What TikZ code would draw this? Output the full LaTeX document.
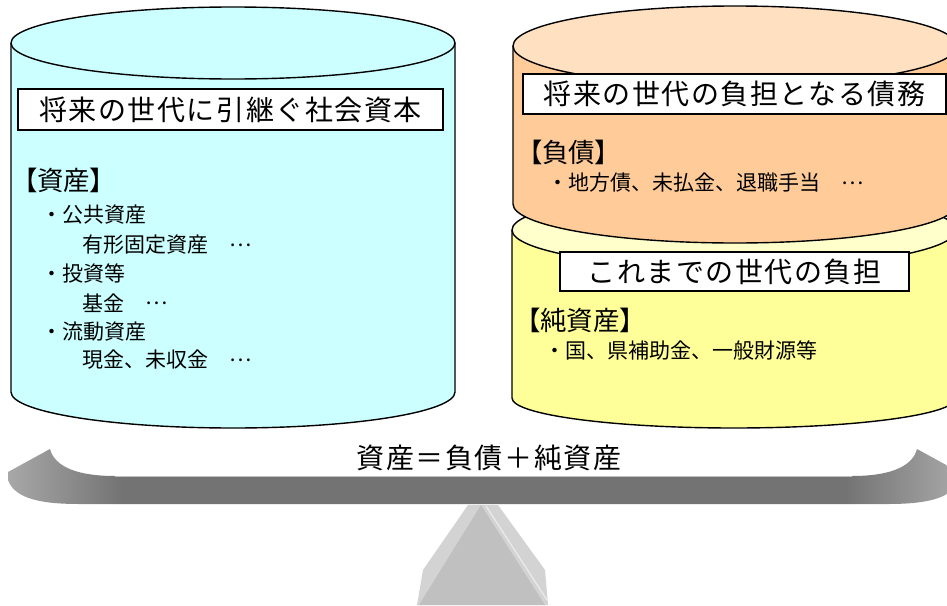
\documentclass[tikz,border=0pt]{standalone}
\usepackage{fontspec}
\newfontfamily\jp{Noto Sans CJK JP}
\newfontfamily\jpls[LetterSpace=5.5]{Noto Sans CJK JP}
\newfontfamily\jpp[RawFeature=+palt]{Noto Sans CJK JP}
\newcommand{\midell}{\raisebox{0.32em}{…}}
\definecolor{cyanfill}{HTML}{CCFFFF}
\definecolor{orangetop}{HTML}{FFE0C0}
\definecolor{orangebody}{HTML}{FFCC99}
\definecolor{yellowtop}{HTML}{FFFFCC}
\definecolor{yellowbody}{HTML}{FFFF99}
\definecolor{beamend}{HTML}{A8A8A8}
\definecolor{beammid}{HTML}{737373}
\definecolor{fulcrumlight}{HTML}{D3D3D3}
\definecolor{fulcrumdark}{HTML}{C0C0C0}
\pgfdeclarehorizontalshading{beamshade}{100bp}{color(0bp)=(beamend); color(25bp)=(beamend); color(31bp)=(beammid); color(69bp)=(beammid); color(75bp)=(beamend); color(100bp)=(beamend)}
\tikzset{
  cylline/.style={draw=black, line width=1.4pt},
  titlebox/.style={draw=black, line width=1.3pt, fill=white, inner sep=0pt,
    font={\jpls\fontsize{28pt}{28pt}\selectfont}},
  headtext/.style={anchor=west, inner sep=0pt, font={\jpp\fontsize{26.5pt}{27pt}\selectfont}},
  itemtext/.style={anchor=west, inner sep=0pt, font={\jp\fontsize{21pt}{21pt}\selectfont}},
  eqtext/.style={inner sep=0pt, font={\jpls\fontsize{28pt}{28pt}\selectfont}}
}
\newcommand{\drawcyl}[8]{%
  \pgfmathsetmacro\cylrx{(#2-#1)/2}
  \fill[#8] (#1,#3) -- (#1,#4) arc[start angle=180,end angle=0,x radius=\cylrx,y radius=#6] -- (#2,#3) -- cycle;
  \draw[cylline] (#1,#3) -- (#1,#4) arc[start angle=180,end angle=0,x radius=\cylrx,y radius=#6] -- (#2,#3);
  \filldraw[cylline, fill=#7] ({(#1+#2)/2},#3) ellipse[x radius=\cylrx, y radius=#5];
}
\begin{document}
\begin{tikzpicture}[x=1pt,y=-1pt]
\useasboundingbox (0,0) rectangle (947,605);
\clip (0,0) rectangle (947,605);
\fill[white] (0,0) rectangle (947,605);

% cylinders
\drawcyl{11}{455}{43}{392}{36}{36}{cyanfill}{cyanfill}
\drawcyl{512}{956}{230}{398}{38}{30}{yellowtop}{yellowbody}
\drawcyl{513}{957}{46}{204}{40}{39}{orangetop}{orangebody}

% title boxes
\node[titlebox, minimum width=425pt, minimum height=41pt] (ltitle) at (230.5,109.5) {将来の世代に引継ぐ社会資本};
\node[titlebox, minimum width=423pt, minimum height=40pt] (rtitle) at (734.5,94) {将来の世代の負担となる債務};
\node[titlebox, minimum width=349pt, minimum height=39pt] (ntitle) at (734.5,271.5) {これまでの世代の負担};

% left contents
\node[headtext] (assethead) at (24,180) {【資産】};
\node[itemtext] (a1) at (41,215) {・公共資産};
\node[itemtext] (a1s) at (82,245) {有形固定資産　\midell};
\node[itemtext] (a2) at (41,273) {・投資等};
\node[itemtext] (a2s) at (82,303) {基金　\midell};
\node[itemtext] (a3) at (41,332) {・流動資産};
\node[itemtext] (a3s) at (82,360) {現金、未収金　\midell};

% right contents
\node[headtext] (debthead) at (529,152) {【負債】};
\node[itemtext] (d1) at (547,183) {・地方債、未払金、退職手当　\midell};
\node[headtext] (nethead) at (527,320) {【純資産】};
\node[itemtext] (n1) at (544,350) {・国、県補助金、一般財源等};

% fulcrum
\fill[fulcrumlight] (468,505) -- (423,570) -- (417,605) -- (548,605) -- (545,570) -- (498,505) -- cycle;
\fill[fulcrumdark] (481,505) -- (419,605) -- (545,605) -- cycle;
\draw[white!55!fulcrumlight, line width=1.2pt] (486,506) -- (547,600);

% beam
\shade[shading=beamshade] (50,449) .. controls (55,468) and (80,476) .. (115,476) -- (852,476) .. controls (887,476) and (912,468) .. (917,449) -- (959,472) -- (959,480) .. controls (952,500) and (922,504) .. (887,504) -- (80,504) .. controls (45,504) and (15,500) .. (8,480) -- (8,472) -- cycle;
\draw[gray!50, line width=1pt] (115,476.5) -- (852,476.5);

\node[eqtext] (eq) at (489,458) {資産＝負債＋純資産};
\end{tikzpicture}
\end{document}
